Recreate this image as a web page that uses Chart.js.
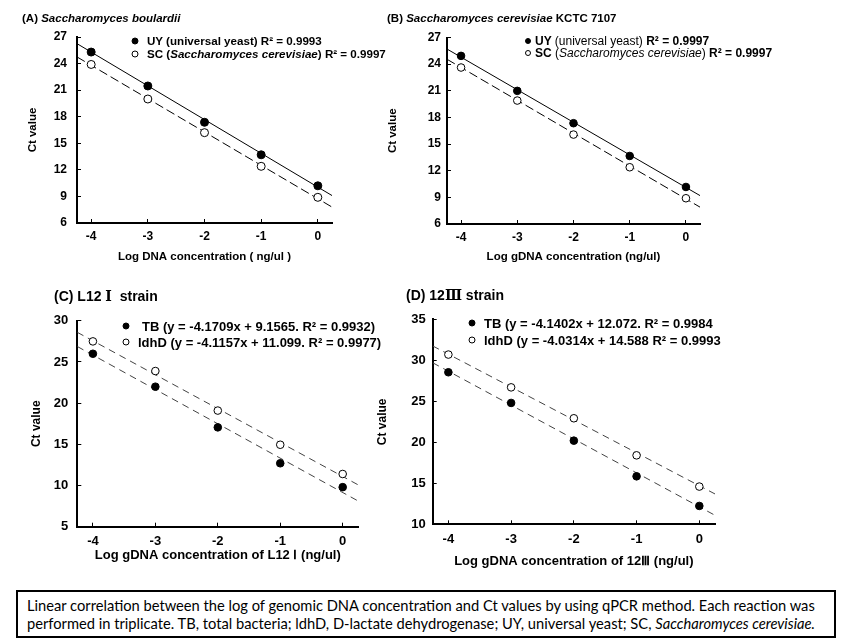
<!DOCTYPE html>
<html>
<head>
<meta charset="utf-8">
<script src="https://cdn.jsdelivr.net/npm/chart.js@4"></script>
<style>
    body { margin: 0; background: #fff; }
    #page { position: relative; width: 845px; height: 641px; overflow: hidden; font-family: "Liberation Sans", Arial, sans-serif; color: #000; }
    canvas { position: absolute; }
    .txt { position: absolute; white-space: pre; line-height: 1; transform: translateY(-50%); font-weight: bold; }
    .dot { position: absolute; border-radius: 50%; border: 1px solid #000; box-sizing: border-box; transform: translate(-50%, -50%); }
    .dot.fill { background: #000; }
    .dot.open { background: #fff; }
    .rn { font-family: "DejaVu Serif", serif; }
    .nb { font-weight: normal; }
    #caption { position: absolute; left: 16px; top: 590px; width: 820px; height: 48px; box-sizing: border-box; border: 2px solid #000;
        font-family: Lato, "Open Sans", sans-serif; font-size: 14.7px; line-height: 18px; padding: 4px 9px; white-space: nowrap; }
</style>
</head>
<body>
<div id="page">
    <canvas id="chartA" width="420" height="275" style="left:0;top:0"></canvas>
    <canvas id="chartB" width="475" height="275" style="left:370px;top:0"></canvas>
    <canvas id="chartC" width="420" height="275" style="left:0;top:300px"></canvas>
    <canvas id="chartD" width="475" height="275" style="left:370px;top:300px"></canvas>

    <div class="txt" style="left:22px;top:19px;font-size:11.5px">(A) <i>Saccharomyces boulardii</i></div>
    <div class="txt" style="left:387px;top:19px;font-size:11.5px">(B) <i>Saccharomyces cerevisiae</i> KCTC 7107</div>
    <div class="txt" style="left:54px;top:296px;font-size:14px">(C) L12 <span class="rn">Ⅰ</span>  strain</div>
    <div class="txt" style="left:406px;top:295px;font-size:14px">(D) 12<span class="rn">Ⅲ</span> strain</div>

    <div class="dot fill" style="left:135px;top:41px;width:7px;height:7px"></div>
    <div class="txt" style="left:147px;top:41px;font-size:11.6px">UY (universal yeast) R² = 0.9993</div>
    <div class="dot open" style="left:135px;top:54px;width:7px;height:7px"></div>
    <div class="txt" style="left:147px;top:54px;font-size:11.6px">SC (<i>Saccharomyces cerevisiae</i>) R² = 0.9997</div>

    <div class="dot fill" style="left:528px;top:41px;width:6px;height:6px"></div>
    <div class="txt" style="left:535px;top:41px;font-size:12px">UY <span class="nb">(universal yeast)</span> R² = 0.9997</div>
    <div class="dot open" style="left:528px;top:53px;width:6px;height:6px"></div>
    <div class="txt" style="left:535px;top:53px;font-size:12px">SC <span class="nb">(<i>Saccharomyces cerevisiae</i>)</span> R² = 0.9997</div>

    <div class="dot fill" style="left:126px;top:326px;width:7px;height:7px"></div>
    <div class="txt" style="left:142px;top:326px;font-size:13px">TB (y = -4.1709x + 9.1565. R² = 0.9932)</div>
    <div class="dot open" style="left:126px;top:342px;width:7px;height:7px"></div>
    <div class="txt" style="left:138px;top:342px;font-size:13px">ldhD (y = -4.1157x + 11.099. R² = 0.9977)</div>

    <div class="dot fill" style="left:472px;top:323px;width:7px;height:7px"></div>
    <div class="txt" style="left:484px;top:323px;font-size:13px">TB (y = -4.1402x + 12.072. R² = 0.9984</div>
    <div class="dot open" style="left:472px;top:340px;width:7px;height:7px"></div>
    <div class="txt" style="left:484px;top:340px;font-size:13px">ldhD (y = -4.0314x + 14.588 R² = 0.9993</div>

    <div id="caption">Linear correlation between the log of genomic DNA concentration and Ct values by using qPCR method. Each reaction was<br>performed in triplicate. TB, total bacteria; ldhD, D-lactate dehydrogenase; UY, universal yeast; SC, <i>Saccharomyces cerevisiae.</i></div>
</div>

<script>
// log gDNA concentration levels (x)
const logConc = [-4, -3, -2, -1, 0];

// Ct values
const ctA_UY = [25.3, 21.47, 17.37, 13.7, 10.2];
const ctA_SC = [23.9, 20.0, 16.2, 12.4, 8.9];
const ctB_UY = [24.93, 20.99, 17.35, 13.66, 10.17];
const ctB_SC = [23.62, 19.9, 16.07, 12.39, 8.9];
const ctC_TB = [26.0, 22.0, 17.06, 12.7, 9.8];
const ctC_ldhD = [27.5, 23.9, 19.1, 14.95, 11.4];
const ctD_TB = [28.54, 24.8, 20.2, 15.85, 12.24];
const ctD_ldhD = [30.7, 26.7, 22.93, 18.41, 14.6];

// fitted lines, read at both ends of the x axis
const fitX = [-4.25, 0.25];
const fitA_UY = [26.25, 9.1];
const fitA_SC = [24.75, 7.8];
const fitB_UY = [25.7, 9.2];
const fitB_SC = [24.55, 7.9];
const fitC_TB = [26.88, 8.11];
const fitC_ldhD = [28.6, 10.07];
const fitD_TB = [29.7, 11.1];
const fitD_ldhD = [31.75, 13.7];

// axis ranges
const xRange = [-4.25, 0.25];
const yTicksAB = [6, 9, 12, 15, 18, 21, 24, 27];
const yTicksC = [5, 10, 15, 20, 25, 30];
const yTicksD = [10, 15, 20, 25, 30, 35];

const xTitleA = "Log DNA concentration ( ng/ul )";
const xTitleB = "Log gDNA concentration (ng/ul)";
const xTitleC = "Log gDNA concentration of L12 Ⅰ (ng/ul)";
const xTitleD = "Log gDNA concentration of 12Ⅲ (ng/ul)";
const yTitle = "Ct value";

Chart.defaults.font.family = "'Liberation Sans', Arial, sans-serif";
Chart.defaults.color = "#000";

function toPoints(xs, ys) {
    return xs.map((x, i) => ({ x: x, y: ys[i] }));
}

function pointSet(values, filled, radius) {
    return {
        data: toPoints(logConc, values),
        showLine: false,
        pointRadius: radius,
        pointBackgroundColor: filled ? "#000" : "#fff",
        pointBorderColor: "#000",
        pointBorderWidth: 1,
        order: 1,
    };
}

function fitLine(values, color, dash) {
    return {
        data: toPoints(fitX, values),
        showLine: true,
        pointRadius: 0,
        borderColor: color,
        borderWidth: 1,
        borderDash: dash,
        order: 2,
    };
}

function makeChart(id, panel) {
    const context = document.getElementById(id).getContext("2d");
    const yTicks = panel.yTicks;
    return new Chart(context, {
        type: "scatter",
        data: { datasets: panel.datasets },
        options: {
            responsive: false,
            animation: false,
            layout: { padding: panel.padding },
            plugins: { legend: { display: false }, tooltip: { enabled: false } },
            scales: {
                x: {
                    type: "linear",
                    min: xRange[0],
                    max: xRange[1],
                    afterFit: (scale) => { scale.height = panel.xHeight; },
                    ticks: {
                        stepSize: 1,
                        includeBounds: false,
                        padding: panel.xPad,
                        font: { size: panel.tickSize, weight: "bold" },
                    },
                    grid: { drawOnChartArea: false, tickLength: -4, color: "#000", lineWidth: 1 },
                    border: { display: true, color: "#000", width: 2 },
                    title: {
                        display: true,
                        text: panel.xTitle,
                        padding: 0,
                        font: { size: panel.xTitleSize, weight: "bold" },
                    },
                },
                y: {
                    min: yTicks[0],
                    max: yTicks[yTicks.length - 1],
                    afterFit: (scale) => { scale.width = panel.yWidth; },
                    afterBuildTicks: (scale) => { scale.ticks = yTicks.map((v) => ({ value: v })); },
                    ticks: {
                        padding: panel.yPad,
                        font: { size: panel.tickSize, weight: "bold" },
                    },
                    grid: { drawOnChartArea: false, tickLength: -4, color: "#000", lineWidth: 1 },
                    border: { display: true, color: "#000", width: 2 },
                    title: {
                        display: true,
                        text: yTitle,
                        padding: 0,
                        font: { size: panel.yTitleSize, weight: "bold" },
                    },
                },
            },
        },
    });
}

makeChart("chartA", {
    datasets: [
        fitLine(fitA_UY, "#000", []),
        fitLine(fitA_SC, "#000", [9, 4]),
        pointSet(ctA_UY, true, 4),
        pointSet(ctA_SC, false, 4),
    ],
    yTicks: yTicksAB,
    padding: { left: 26.1, right: 88, top: 37, bottom: 11.4 },
    yWidth: 50.9, xHeight: 40.6, xPad: 10.5, yPad: 14,
    tickSize: 12, xTitle: xTitleA, xTitleSize: 11.5, yTitleSize: 11.5,
});

makeChart("chartB", {
    datasets: [
        fitLine(fitB_UY, "#000", []),
        fitLine(fitB_SC, "#000", [9, 4]),
        pointSet(ctB_UY, true, 3.8),
        pointSet(ctB_SC, false, 3.8),
    ],
    yTicks: yTicksAB,
    padding: { left: 16.4, right: 145, top: 37.5, bottom: 11.4 },
    yWidth: 60.6, xHeight: 39.6, xPad: 10, yPad: 10,
    tickSize: 12, xTitle: xTitleB, xTitleSize: 11.5, yTitleSize: 11.5,
});

makeChart("chartC", {
    datasets: [
        fitLine(fitC_TB, "#444", [7, 5]),
        fitLine(fitC_ldhD, "#444", [7, 5]),
        pointSet(ctC_TB, true, 3.8),
        pointSet(ctC_ldhD, false, 3.8),
    ],
    yTicks: yTicksC,
    padding: { left: 29.5, right: 61.7, top: 20.7, bottom: 12.2 },
    yWidth: 47.8, xHeight: 36.1, xPad: 11, yPad: 13,
    tickSize: 13, xTitle: xTitleC, xTitleSize: 13, yTitleSize: 12,
});

makeChart("chartD", {
    datasets: [
        fitLine(fitD_TB, "#444", [7, 5]),
        fitLine(fitD_ldhD, "#444", [7, 5]),
        pointSet(ctD_TB, true, 3.8),
        pointSet(ctD_ldhD, false, 3.8),
    ],
    yTicks: yTicksD,
    padding: { left: 5.5, right: 130, top: 19.3, bottom: 5.5 },
    yWidth: 57.2, xHeight: 45.2, xPad: 11, yPad: 11,
    tickSize: 13, xTitle: xTitleD, xTitleSize: 13, yTitleSize: 12,
});
</script>
</body>
</html>
